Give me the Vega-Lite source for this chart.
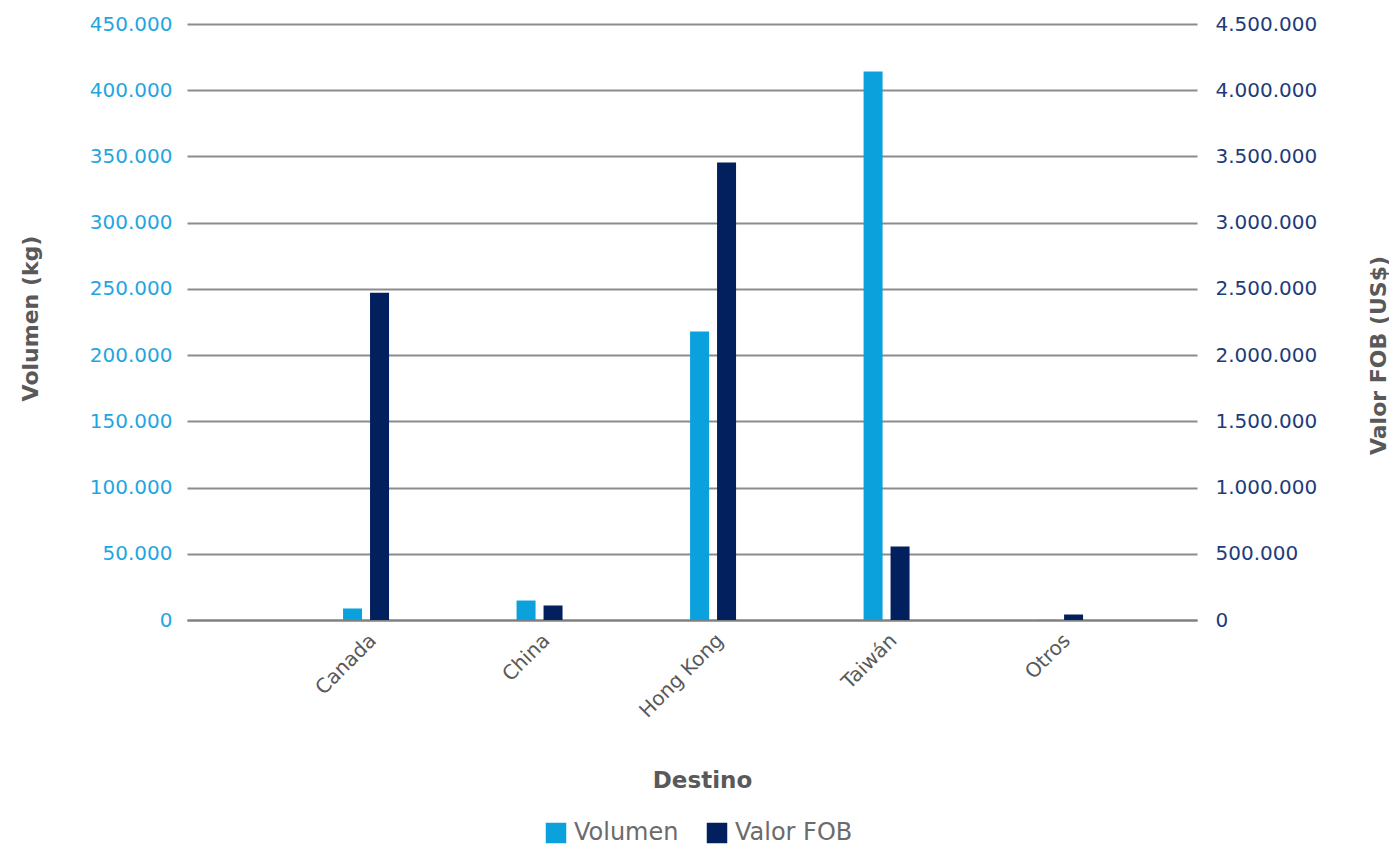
{
  "$schema": "https://vega.github.io/schema/vega-lite/v6.json",
  "width": 1010,
  "height": 596,
  "autosize": {"type": "none"},
  "padding": {"left": 187, "top": 24, "right": 192, "bottom": 225},
  "background": "white",
  "config": {
    "view": {"stroke": null},
    "font": "DejaVu Sans",
    "locale": {"number": {"decimal": ",", "thousands": ".", "grouping": [3], "currency": ["", ""]}}
  },
  "data": {
    "values": [
      {"destino": "Canada", "serie": "Volumen", "valor": 8700},
      {"destino": "China", "serie": "Volumen", "valor": 14700},
      {"destino": "Hong Kong", "serie": "Volumen", "valor": 217800},
      {"destino": "Taiwán", "serie": "Volumen", "valor": 414100},
      {"destino": "Otros", "serie": "Volumen", "valor": 150},
      {"destino": "Canada", "serie": "Valor FOB", "valor": 2470000},
      {"destino": "China", "serie": "Valor FOB", "valor": 109500},
      {"destino": "Hong Kong", "serie": "Valor FOB", "valor": 3454000},
      {"destino": "Taiwán", "serie": "Valor FOB", "valor": 555000},
      {"destino": "Otros", "serie": "Valor FOB", "valor": 41500}
    ]
  },
  "encoding": {
    "x": {
      "field": "destino",
      "type": "nominal",
      "sort": ["Canada", "China", "Hong Kong", "Taiwán", "Otros"],
      "scale": {"paddingInner": 0.735, "paddingOuter": 0.778, "align": 0.578, "round": false},
      "axis": {
        "title": "Destino",
        "titleFontSize": 23,
        "titleFontWeight": "bold",
        "titleColor": "#595959",
        "titleX": 515,
        "titleY": 160,
        "titleBaseline": "middle",
        "titleAlign": "center",
        "labelAngle": -45,
        "labelFontSize": 20,
        "labelColor": "#595959",
        "labelPadding": 10,
        "ticks": false,
        "domain": true,
        "domainColor": "#7f7f7f",
        "domainWidth": 2,
        "grid": false
      }
    },
    "xOffset": {
      "field": "serie",
      "type": "nominal",
      "scale": {"domain": ["Volumen", "Valor FOB"], "paddingInner": 0.296, "paddingOuter": 0, "round": false}
    },
    "color": {
      "field": "serie",
      "type": "nominal",
      "scale": {"domain": ["Volumen", "Valor FOB"], "range": ["#0ba1dc", "#021f5e"]},
      "legend": {
        "title": null,
        "orient": "none",
        "direction": "horizontal",
        "legendX": 357,
        "legendY": 797,
        "symbolType": "square",
        "symbolSize": 420,
        "symbolStrokeWidth": 0,
        "labelFontSize": 24,
        "labelColor": "#6b6b6b",
        "labelOffset": 6,
        "columnPadding": 26
      }
    }
  },
  "layer": [
    {
      "transform": [{"filter": "datum.serie === 'Volumen'"}],
      "mark": {"type": "bar"},
      "encoding": {
        "y": {
          "field": "valor",
          "type": "quantitative",
          "scale": {"domain": [0, 450000], "nice": false},
          "axis": {
            "title": "Volumen (kg)",
            "orient": "left",
            "format": ",.0f",
            "values": [0, 50000, 100000, 150000, 200000, 250000, 300000, 350000, 400000, 450000],
            "titleFontSize": 22,
            "titleFontWeight": "bold",
            "titleColor": "#595959",
            "titleX": -157,
            "titleY": 294,
            "titleAngle": -90,
            "titleBaseline": "middle",
            "titleAlign": "center",
            "labelFontSize": 20,
            "labelColor": "#1fa6e0",
            "labelPadding": 15,
            "ticks": false,
            "domain": false,
            "grid": true,
            "gridColor": "#8c8c8c",
            "gridWidth": 2
          }
        }
      }
    },
    {
      "transform": [{"filter": "datum.serie === 'Valor FOB'"}],
      "mark": {"type": "bar"},
      "encoding": {
        "y": {
          "field": "valor",
          "type": "quantitative",
          "scale": {"domain": [0, 4500000], "nice": false},
          "axis": {
            "title": "Valor FOB (US$)",
            "orient": "right",
            "format": ",.0f",
            "values": [0, 500000, 1000000, 1500000, 2000000, 2500000, 3000000, 3500000, 4000000, 4500000],
            "titleFontSize": 22,
            "titleFontWeight": "bold",
            "titleColor": "#595959",
            "titleX": 181,
            "titleY": 331,
            "titleAngle": -90,
            "titleBaseline": "middle",
            "titleAlign": "center",
            "labelFontSize": 20,
            "labelColor": "#1e3b7a",
            "labelPadding": 18,
            "ticks": false,
            "domain": false,
            "grid": false
          }
        }
      }
    }
  ],
  "resolve": {"scale": {"y": "independent"}, "axis": {"y": "independent"}}
}
